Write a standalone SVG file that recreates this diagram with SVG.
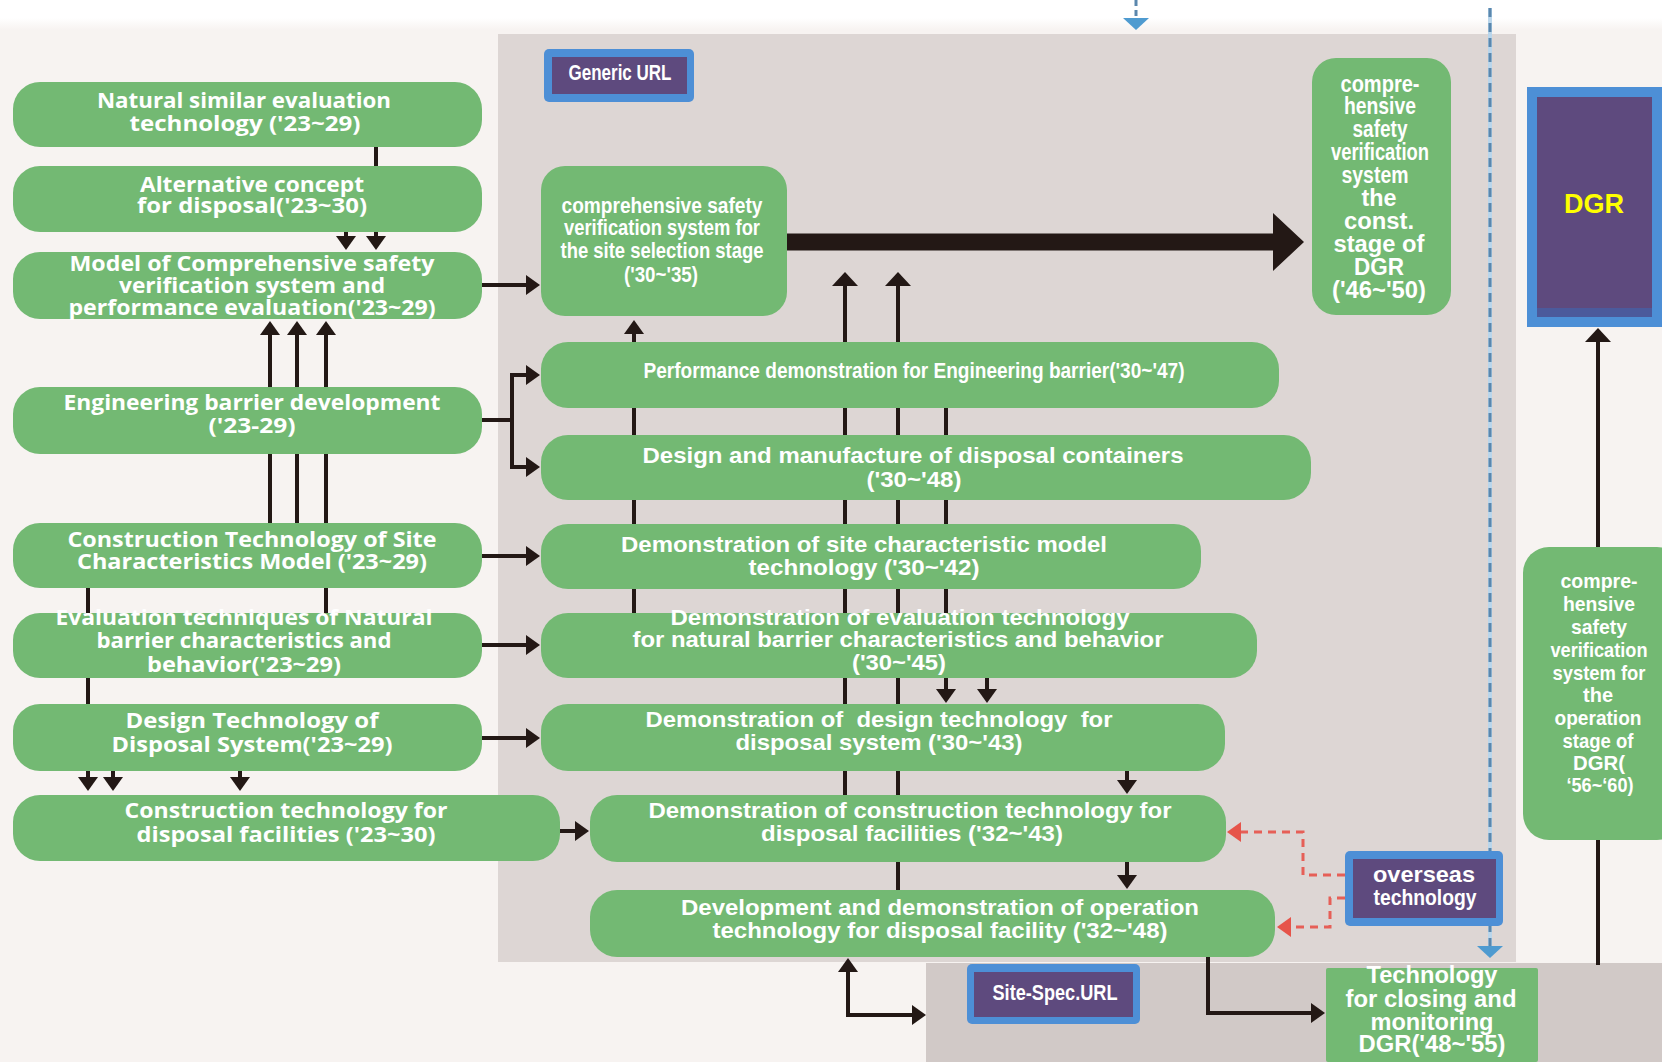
<svg xmlns="http://www.w3.org/2000/svg" width="1662" height="1062" viewBox="0 0 1662 1062">
<defs>
<linearGradient id="topfade" x1="0" y1="0" x2="0" y2="1">
<stop offset="0" stop-color="#ffffff"/><stop offset="0.6" stop-color="#ffffff"/><stop offset="1" stop-color="#f7f3f1"/>
</linearGradient>
<marker id="ah" viewBox="0 0 14 20" refX="0" refY="10" markerWidth="14" markerHeight="20" markerUnits="userSpaceOnUse" orient="auto"><path d="M0,0L14,10L0,20Z" fill="#231815"/></marker>
<marker id="ahL" viewBox="0 0 14 26" refX="0" refY="13" markerWidth="14" markerHeight="26" markerUnits="userSpaceOnUse" orient="auto"><path d="M0,0L14,13L0,26Z" fill="#231815"/></marker>
<marker id="ahT" viewBox="0 0 31 58" refX="0" refY="29" markerWidth="31" markerHeight="58" markerUnits="userSpaceOnUse" orient="auto"><path d="M0,0L31,29L0,58Z" fill="#231815"/></marker>
<marker id="ahR" viewBox="0 0 14 20" refX="0" refY="10" markerWidth="14" markerHeight="20" markerUnits="userSpaceOnUse" orient="auto"><path d="M0,0L14,10L0,20Z" fill="#e8463c"/></marker>
<marker id="ahB" viewBox="0 0 12 26" refX="0" refY="13" markerWidth="12" markerHeight="26" markerUnits="userSpaceOnUse" orient="auto"><path d="M0,0L12,13L0,26Z" fill="#4f9bd0"/></marker>
</defs>
<style>
.n{fill:#73b973}
.t{fill:#fff;font-family:"Open Sans","Liberation Sans",sans-serif;font-weight:700;font-size:22px;text-anchor:middle}
.a{fill:#fff;font-family:"Liberation Sans",Arial,sans-serif;font-weight:700;font-size:22px;text-anchor:middle}
.c{fill:none;stroke:#231815;stroke-width:4}
.r{fill:none;stroke:#e8534a;stroke-width:3;stroke-dasharray:8 6;opacity:0.9}
.bo{fill:#4d8fd6}
.pu{fill:#5e4a7e}
</style>

<!-- backgrounds -->
<rect x="0" y="0" width="1662" height="1062" fill="#f7f3f1"/>
<rect x="0" y="0" width="1662" height="30" fill="url(#topfade)"/>
<rect x="498" y="34" width="1018" height="928" fill="#ddd6d4"/>
<rect x="926" y="963" width="736" height="99" fill="#d1c9c7"/>

<!-- connectors -->
<g id="connectors">
<path class="c" d="M376,147V236" marker-end="url(#ah)"/>
<path class="c" d="M346,205V236" marker-end="url(#ah)"/>
<path class="c" d="M270,523V335" marker-end="url(#ah)"/>
<path class="c" d="M297,523V335" marker-end="url(#ah)"/>
<path class="c" d="M326,613V335" marker-end="url(#ah)"/>
<path class="c" d="M88,588V777" marker-end="url(#ah)"/>
<path class="c" d="M113,766V777" marker-end="url(#ah)"/>
<path class="c" d="M240,766V777" marker-end="url(#ah)"/>
<path class="c" d="M482,285H526" marker-end="url(#ah)"/>
<path class="c" d="M482,420H512M512,373V469"/>
<path class="c" d="M510,375H526" marker-end="url(#ah)"/>
<path class="c" d="M510,467H526" marker-end="url(#ah)"/>
<path class="c" d="M482,556H526" marker-end="url(#ah)"/>
<path class="c" d="M482,645H526" marker-end="url(#ah)"/>
<path class="c" d="M482,738H526" marker-end="url(#ah)"/>
<path class="c" d="M560,831H575" marker-end="url(#ah)"/>
<path class="c" d="M634,613V334" marker-end="url(#ah)"/>
<path class="c" d="M845,795V286" marker-end="url(#ahL)"/>
<path class="c" d="M898,890V286" marker-end="url(#ahL)"/>
<path class="c" d="M946,380V689" marker-end="url(#ah)"/>
<path class="c" d="M987,676V689" marker-end="url(#ah)"/>
<path class="c" d="M1127,769V780" marker-end="url(#ah)"/>
<path class="c" d="M1127,860V875" marker-end="url(#ah)"/>
<path class="c" d="M848,1017V972" marker-end="url(#ah)"/>
<path class="c" d="M846,1015H912" marker-end="url(#ah)"/>
<path class="c" d="M1208,957V1013H1311" marker-end="url(#ah)"/>
<path class="c" d="M1598,547V342" marker-end="url(#ahL)"/>
<path class="c" d="M1598,840V965"/>
<path d="M787,242H1273" stroke="#231815" stroke-width="17" fill="none" marker-end="url(#ahT)"/>
<path d="M1490,8V946" stroke="#b9d6ec" stroke-width="4" fill="none"/>
<path d="M1490,8V946" stroke="#5b87ad" stroke-width="3" stroke-dasharray="9 6" fill="none" marker-end="url(#ahB)"/>
<path d="M1136,0V18" stroke="#5b87ad" stroke-width="3" stroke-dasharray="6 4" fill="none" marker-end="url(#ahB)"/>
<path class="r" d="M1345,875H1303V832H1241" marker-end="url(#ahR)"/>
<path class="r" d="M1345,898H1330V927H1291" marker-end="url(#ahR)"/>
</g>

<!-- left column -->
<g id="n-natural">
<rect class="n" x="13" y="82" width="469" height="65" rx="27"/>
<text class="t" x="244" y="108" textLength="294" lengthAdjust="spacingAndGlyphs">Natural similar evaluation</text>
<text class="t" x="245" y="131" textLength="231" lengthAdjust="spacingAndGlyphs">technology ('23~29)</text>
</g>
<g id="n-alternative">
<rect class="n" x="13" y="166" width="469" height="66" rx="27"/>
<text class="t" x="252" y="192" textLength="224" lengthAdjust="spacingAndGlyphs">Alternative concept</text>
<text class="t" x="252" y="213" textLength="230" lengthAdjust="spacingAndGlyphs">for disposal('23~30)</text>
</g>
<g id="n-model">
<rect class="n" x="13" y="252" width="469" height="67" rx="27"/>
<text class="t" x="252" y="271" textLength="365" lengthAdjust="spacingAndGlyphs">Model of Comprehensive safety</text>
<text class="t" x="252" y="293" textLength="266" lengthAdjust="spacingAndGlyphs">verification system and</text>
<text class="t" x="252" y="315" textLength="367" lengthAdjust="spacingAndGlyphs">performance evaluation('23~29)</text>
</g>
<g id="n-engineering">
<rect class="n" x="13" y="387" width="469" height="67" rx="27"/>
<text class="t" x="252" y="410" textLength="377" lengthAdjust="spacingAndGlyphs">Engineering barrier development</text>
<text class="t" x="252" y="433" textLength="87" lengthAdjust="spacingAndGlyphs">('23-29)</text>
</g>
<g id="n-site-model">
<rect class="n" x="13" y="523" width="469" height="65" rx="27"/>
<text class="t" x="252" y="547" textLength="369" lengthAdjust="spacingAndGlyphs">Construction Technology of Site</text>
<text class="t" x="252" y="569" textLength="350" lengthAdjust="spacingAndGlyphs">Characteristics Model ('23~29)</text>
</g>
<g id="n-natural-barrier">
<rect class="n" x="13" y="613" width="469" height="65" rx="27"/>
<text class="t" x="244" y="625" textLength="377" lengthAdjust="spacingAndGlyphs">Evaluation techniques of Natural</text>
<text class="t" x="244" y="648" textLength="295" lengthAdjust="spacingAndGlyphs">barrier characteristics and</text>
<text class="t" x="244" y="672" textLength="194" lengthAdjust="spacingAndGlyphs">behavior('23~29)</text>
</g>
<g id="n-design">
<rect class="n" x="13" y="704" width="469" height="67" rx="27"/>
<text class="t" x="252" y="728" textLength="253" lengthAdjust="spacingAndGlyphs">Design Technology of</text>
<text class="t" x="252" y="752" textLength="281" lengthAdjust="spacingAndGlyphs">Disposal System('23~29)</text>
</g>
<g id="n-construction">
<rect class="n" x="13" y="795" width="547" height="66" rx="27"/>
<text class="t" x="286" y="818" textLength="323" lengthAdjust="spacingAndGlyphs">Construction technology for</text>
<text class="t" x="286" y="842" textLength="299" lengthAdjust="spacingAndGlyphs">disposal facilities ('23~30)</text>
</g>

<!-- middle column -->
<g id="n-generic-url">
<rect class="bo" x="544" y="49" width="150" height="53" rx="5"/>
<rect class="pu" x="552" y="57" width="135" height="37"/>
<text class="a" x="620" y="80" textLength="103" lengthAdjust="spacingAndGlyphs">Generic URL</text>
</g>
<g id="n-site-selection">
<rect class="n" x="541" y="166" width="246" height="150" rx="24"/>
<text class="a" x="662" y="213" textLength="201" lengthAdjust="spacingAndGlyphs">comprehensive safety</text>
<text class="a" x="662" y="235" textLength="196" lengthAdjust="spacingAndGlyphs">verification system for</text>
<text class="a" x="662" y="258" textLength="203" lengthAdjust="spacingAndGlyphs">the site selection stage</text>
<text class="a" x="661" y="282" textLength="74" lengthAdjust="spacingAndGlyphs">('30~'35)</text>
</g>
<g id="n-perf-demo">
<rect class="n" x="541" y="342" width="738" height="66" rx="27"/>
<text class="a" x="914" y="378" textLength="541" lengthAdjust="spacingAndGlyphs">Performance demonstration for Engineering barrier('30~'47)</text>
</g>
<g id="n-containers">
<rect class="n" x="541" y="435" width="770" height="65" rx="27"/>
<text class="a" x="913" y="463" textLength="541" lengthAdjust="spacingAndGlyphs">Design and manufacture of disposal containers</text>
<text class="a" x="914" y="487" textLength="95" lengthAdjust="spacingAndGlyphs">('30~'48)</text>
</g>
<g id="n-demo-site">
<rect class="n" x="541" y="524" width="660" height="65" rx="27"/>
<text class="a" x="864" y="552" textLength="486" lengthAdjust="spacingAndGlyphs">Demonstration of site characteristic model</text>
<text class="a" x="864" y="575" textLength="231" lengthAdjust="spacingAndGlyphs">technology ('30~'42)</text>
</g>
<g id="n-demo-eval">
<rect class="n" x="541" y="613" width="716" height="65" rx="27"/>
<text class="a" x="900" y="625" textLength="459" lengthAdjust="spacingAndGlyphs">Demonstration of evaluation technology</text>
<text class="a" x="898" y="647" textLength="531" lengthAdjust="spacingAndGlyphs">for natural barrier characteristics and behavior</text>
<text class="a" x="899" y="670" textLength="94" lengthAdjust="spacingAndGlyphs">('30~'45)</text>
</g>
<g id="n-demo-design">
<rect class="n" x="541" y="704" width="684" height="67" rx="27"/>
<text class="a" x="879" y="727" textLength="467" lengthAdjust="spacingAndGlyphs" xml:space="preserve">Demonstration of  design technology  for</text>
<text class="a" x="879" y="750" textLength="287" lengthAdjust="spacingAndGlyphs">disposal system ('30~'43)</text>
</g>
<g id="n-demo-construction">
<rect class="n" x="590" y="795" width="636" height="67" rx="27"/>
<text class="a" x="910" y="818" textLength="523" lengthAdjust="spacingAndGlyphs">Demonstration of construction technology for</text>
<text class="a" x="912" y="841" textLength="302" lengthAdjust="spacingAndGlyphs">disposal facilities ('32~'43)</text>
</g>
<g id="n-operation">
<rect class="n" x="590" y="890" width="685" height="67" rx="27"/>
<text class="a" x="940" y="915" textLength="518" lengthAdjust="spacingAndGlyphs">Development and demonstration of operation</text>
<text class="a" x="940" y="938" textLength="455" lengthAdjust="spacingAndGlyphs">technology for disposal facility ('32~'48)</text>
</g>
<g id="n-site-spec-url">
<rect class="bo" x="967" y="964" width="173" height="60" rx="5"/>
<rect class="pu" x="974" y="972" width="159" height="45"/>
<text class="a" x="1055" y="1000" textLength="125" lengthAdjust="spacingAndGlyphs">Site-Spec.URL</text>
</g>

<!-- right column -->
<g id="n-const-stage" class="a" style="font-size:23px">
<rect class="n" x="1312" y="58" width="139" height="257" rx="24"/>
<text x="1380" y="92" textLength="79" lengthAdjust="spacingAndGlyphs">compre-</text>
<text x="1380" y="114" textLength="72" lengthAdjust="spacingAndGlyphs">hensive</text>
<text x="1380" y="137" textLength="55" lengthAdjust="spacingAndGlyphs">safety</text>
<text x="1380" y="160" textLength="98" lengthAdjust="spacingAndGlyphs">verification</text>
<text x="1375" y="183" textLength="67" lengthAdjust="spacingAndGlyphs">system</text>
<text x="1379" y="206" textLength="35" lengthAdjust="spacingAndGlyphs">the</text>
<text x="1379" y="229" textLength="70" lengthAdjust="spacingAndGlyphs">const.</text>
<text x="1379" y="252" textLength="91" lengthAdjust="spacingAndGlyphs">stage of</text>
<text x="1379" y="275" textLength="50" lengthAdjust="spacingAndGlyphs">DGR</text>
<text x="1379" y="298" textLength="94" lengthAdjust="spacingAndGlyphs">('46~'50)</text>
</g>
<g id="n-dgr">
<rect class="bo" x="1527" y="87" width="135" height="240"/>
<rect class="pu" x="1537" y="97" width="115" height="214"/>
<rect x="1537" y="308" width="115" height="9" fill="#4b5a9c"/>
<text x="1594" y="213" fill="#ffff00" style="font-family:'Liberation Sans',Arial,sans-serif;font-weight:700;font-size:27px;text-anchor:middle">DGR</text>
</g>
<g id="n-op-stage" class="a" style="font-size:21px">
<rect class="n" x="1523" y="547" width="160" height="293" rx="26"/>
<text x="1599" y="588" textLength="77" lengthAdjust="spacingAndGlyphs">compre-</text>
<text x="1599" y="611" textLength="72" lengthAdjust="spacingAndGlyphs">hensive</text>
<text x="1599" y="634" textLength="56" lengthAdjust="spacingAndGlyphs">safety</text>
<text x="1599" y="657" textLength="97" lengthAdjust="spacingAndGlyphs">verification</text>
<text x="1599" y="680" textLength="93" lengthAdjust="spacingAndGlyphs">system for</text>
<text x="1598" y="702" textLength="30" lengthAdjust="spacingAndGlyphs">the</text>
<text x="1598" y="725" textLength="87" lengthAdjust="spacingAndGlyphs">operation</text>
<text x="1598" y="748" textLength="71" lengthAdjust="spacingAndGlyphs">stage of</text>
<text x="1599" y="770" textLength="52" lengthAdjust="spacingAndGlyphs">DGR(</text>
<text x="1600" y="792" textLength="67" lengthAdjust="spacingAndGlyphs">‘56~‘60)</text>
</g>
<g id="n-overseas">
<rect class="bo" x="1345" y="851" width="158" height="75" rx="5"/>
<rect class="pu" x="1353" y="859" width="143" height="59"/>
<text class="a" x="1424" y="882" textLength="102" lengthAdjust="spacingAndGlyphs">overseas</text>
<text class="a" x="1425" y="905" textLength="103" lengthAdjust="spacingAndGlyphs">technology</text>
</g>
<g id="n-closing" class="a" style="font-size:24px">
<rect class="n" x="1326" y="968" width="212" height="94" rx="2"/>
<text x="1432" y="983" textLength="131" lengthAdjust="spacingAndGlyphs">Technology</text>
<text x="1431" y="1007" textLength="171" lengthAdjust="spacingAndGlyphs">for closing and</text>
<text x="1432" y="1030" textLength="123" lengthAdjust="spacingAndGlyphs">monitoring</text>
<text x="1432" y="1052" textLength="147" lengthAdjust="spacingAndGlyphs">DGR('48~'55)</text>
</g>
</svg>
